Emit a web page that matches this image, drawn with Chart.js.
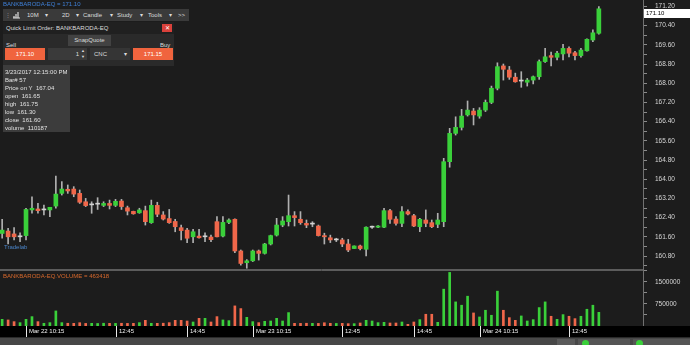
<!DOCTYPE html>
<html>
<head>
<meta charset="utf-8">
<script src="https://cdn.jsdelivr.net/npm/chart.js@4.4.1/dist/chart.umd.min.js"></script>
<style>
body { margin:0; width:690px; height:345px; overflow:hidden; background:#1c1c1c; position:relative; font-family:"Liberation Sans", Arial, sans-serif; }
#priceBox { position:absolute; left:0; top:0; width:690px; height:270px; }
#volBox { position:absolute; left:0; top:270px; width:690px; height:68px; }
.ov { position:absolute; font-size:6px; line-height:8px; color:#dcdcdc; white-space:nowrap; z-index:5; }
.box { position:absolute; z-index:5; }
.info div { height:8px; }
</style>
</head>
<body>
<div id="priceBox"><canvas id="priceChart" width="690" height="270"></canvas></div>
<div id="volBox"><canvas id="volChart" width="690" height="68"></canvas></div>

<!-- top left overlays -->
<div class="ov" style="left:3px;top:0px;color:#3f80d8;">BANKBARODA-EQ = 171.10</div>
<div class="box" style="left:3px;top:9px;width:186px;height:12px;background:#3a3a3a;">
  <div class="ov" style="left:2px;top:2px;color:#888;">⋮</div>
  <svg class="box" style="left:9px;top:2px;" width="9" height="8"><path d="M1 7 H8 M2 7 V5 M4 7 V3 M6 7 V1" stroke="#ddd" stroke-width="1.2" fill="none"/></svg>
  <div class="ov" style="left:24px;top:2px;">10M</div><div class="ov" style="left:42px;top:2px;">▾</div>
  <div class="ov" style="left:59px;top:2px;">2D</div><div class="ov" style="left:73px;top:2px;">▾</div>
  <div class="ov" style="left:80px;top:2px;">Candle</div><div class="ov" style="left:107px;top:2px;">▾</div>
  <div class="ov" style="left:114px;top:2px;">Study</div><div class="ov" style="left:137px;top:2px;">▾</div>
  <div class="ov" style="left:145px;top:2px;">Tools</div><div class="ov" style="left:166px;top:2px;">▾</div>
  <div class="ov" style="left:175px;top:2px;">&gt;&gt;</div>
</div>
<div class="box" style="left:3px;top:22px;width:171px;height:44px;background:#2a2a2a;">
  <div class="box" style="left:0;top:0;width:171px;height:12px;background:#202020;"></div>
  <div class="ov" style="left:3px;top:2px;color:#dcdcdc;"><span style="color:#dcdcdc;">Quick Limit Order: BANKBARODA-EQ</span></div>
  <div class="box" style="left:159px;top:2px;width:10px;height:8px;background:#d9413b;color:#fff;font-size:6px;line-height:8px;text-align:center;">✕</div>
  <div class="box" style="left:65px;top:13px;width:43px;height:11px;background:#424242;color:#dcdcdc;font-size:6px;line-height:11px;text-align:center;">SnapQuote</div>
  <div class="ov" style="left:3px;top:19px;">Sell</div>
  <div class="ov" style="left:157px;top:19px;">Buy</div>
  <div class="box" style="left:2px;top:26px;width:40px;height:12px;background:#f0643e;color:#fff;font-size:6px;line-height:12px;text-align:center;">171.10</div>
  <div class="box" style="left:45px;top:26px;width:39px;height:12px;background:#3a3a3a;color:#ddd;font-size:6px;line-height:12px;">
    <span style="position:absolute;right:8px;">1</span><span style="position:absolute;right:2px;font-size:4px;line-height:6px;top:0;">▲<br>▼</span></div>
  <div class="box" style="left:87px;top:26px;width:40px;height:12px;background:#353535;color:#ddd;font-size:6px;line-height:12px;">
    <span style="position:absolute;left:4px;">CNC</span><span style="position:absolute;right:3px;">▾</span></div>
  <div class="box" style="left:130px;top:26px;width:40px;height:12px;background:#f0643e;color:#fff;font-size:6px;line-height:12px;text-align:center;">171.15</div>
</div>
<div class="box info" style="left:3px;top:65px;width:67px;height:67px;background:#3c3c3c;color:#e2e2e2;font-size:6px;line-height:8px;padding-top:3px;box-sizing:border-box;padding-left:2px;">
  <div>3/23/2017 12:15:00 PM</div>
  <div>Bar# 57</div>
  <div>Price on Y&nbsp; 167.04</div>
  <div>open&nbsp; 161.65</div>
  <div>high&nbsp; 161.75</div>
  <div>low&nbsp; 161.30</div>
  <div>close&nbsp; 161.60</div>
  <div>volume&nbsp; 110187</div>
</div>
<div class="ov" style="left:4px;top:243px;color:#4a84c8;">Tradelab</div>
<div class="ov" style="left:3px;top:272px;color:#d9692c;">BANKBARODA-EQ.VOLUME = 463418</div>

<!-- bottom status bar -->
<div class="box" style="left:0;top:337px;width:690px;height:8px;background:#474747;border-top:1px solid #2a2a2a;">
  <div class="box" style="left:557px;top:1px;width:18px;height:8px;background:#5a5a5a;"></div>
  <div class="box" style="left:578px;top:1px;width:52px;height:8px;background:#555;"></div>
  <div class="box" style="left:582px;top:2px;width:7px;height:7px;border-radius:50%;background:#3ad03a;"></div>
  <div class="box" style="left:633px;top:1px;width:57px;height:8px;background:#555;"></div>
  <div class="box" style="left:636px;top:2px;width:7px;height:7px;border-radius:50%;background:#3ad03a;"></div>
</div>

<script>
// 10 minute bars, Mar 22 09:35 .. Mar 24 13:35
const opens = [
  161.74, 161.84, 161.72, 161.60, 161.65, 162.72, 162.76, 162.72, 162.72, 162.88,
  163.41, 163.58, 163.59, 163.41, 163.06, 162.93, 162.96, 162.91, 162.99, 162.91,
  163.09, 162.81, 162.66, 162.60, 162.69, 162.19, 162.91, 162.51, 162.36, 162.24,
  161.98, 161.88, 161.60, 161.63, 161.60, 161.59,
  162.23, 161.63, 162.20, 162.33,
  161.01, 160.52, 160.60, 161.01, 160.91, 161.30, 161.67, 162.09, 162.23, 162.48,
  162.33, 162.16, 162.13, 162.05, 161.65, 161.56, 161.47, 161.47, 161.30, 161.11,
  161.22, 161.08, 162.00, 162.00, 162.00, 162.69, 162.34, 162.16, 162.65, 162.48,
  162.02, 162.30, 162.19, 162.12,
  162.23, 164.73, 165.91, 166.16, 166.68, 166.84,
  166.63, 166.88, 167.20, 167.79, 168.72, 168.55, 168.25, 168.09, 168.04, 168.13,
  168.27, 168.90, 169.15, 169.08, 169.22, 169.45, 169.27, 169.15, 169.35, 169.80,
  170.08
];
const highs = [
  162.33, 161.95, 161.98, 161.77, 162.79, 163.27, 162.99, 162.92, 162.83, 164.13,
  163.90, 163.76, 163.69, 163.55, 163.20, 163.06, 163.23, 163.06, 163.13, 163.16,
  163.16, 162.88, 162.67, 162.79, 162.88, 163.13, 163.04, 162.65, 162.74, 162.33,
  162.09, 161.95, 161.91, 161.91, 161.77, 161.67,
  162.44, 162.44, 162.35, 162.35,
  161.05, 160.65, 161.05, 161.05, 161.33, 161.67, 162.37, 162.44, 163.34, 162.65,
  162.65, 162.30, 162.23, 162.09, 161.75, 161.67, 161.54, 161.54, 161.49, 161.22,
  161.26, 162.02, 162.05, 162.07, 162.79, 162.74, 162.44, 162.86, 162.72, 162.54,
  162.37, 162.72, 162.30, 162.58,
  164.87, 166.12, 166.60, 166.91, 167.26, 166.95,
  166.98, 167.30, 167.88, 168.85, 168.80, 168.70, 168.42, 168.48, 168.20, 168.30,
  168.97, 169.45, 169.30, 169.33, 169.62, 169.52, 169.33, 169.45, 169.85, 170.22,
  171.19
];
const lows = [
  161.54, 161.30, 161.47, 161.40, 161.47, 162.58, 162.58, 162.51, 162.44, 162.79,
  163.34, 163.41, 163.27, 162.99, 162.86, 162.58, 162.74, 162.86, 162.76, 162.86,
  162.74, 162.51, 162.54, 162.58, 162.09, 162.16, 162.44, 162.30, 162.16, 161.81,
  161.47, 161.36, 161.36, 161.54, 161.40, 161.40,
  161.60, 161.60, 162.15, 160.94,
  160.42, 160.29, 160.57, 160.63, 160.88, 161.26, 161.63, 162.02, 162.05, 162.05,
  162.12, 161.98, 162.02, 161.63, 161.30, 161.36, 161.40, 161.19, 160.98, 161.11,
  161.05, 160.80, 161.95, 161.98, 161.98, 162.16, 162.09, 162.02, 162.51, 162.02,
  161.81, 162.02, 161.98, 161.98,
  162.02, 164.50, 165.84, 166.05, 166.63, 166.26,
  166.54, 166.82, 167.15, 167.72, 168.13, 168.16, 168.04, 167.83, 167.88, 167.97,
  168.16, 168.87, 168.72, 168.97, 168.97, 169.10, 168.97, 169.08, 169.33, 169.73,
  170.04
];
const closes = [
  161.88, 161.60, 161.60, 161.60, 162.74, 162.79, 162.69, 162.72, 162.83, 163.38,
  163.59, 163.51, 163.38, 163.04, 162.90, 162.93, 162.96, 162.99, 162.91, 163.08,
  162.86, 162.67, 162.56, 162.72, 162.23, 162.91, 162.54, 162.34, 162.19, 162.02,
  161.86, 161.54, 161.81, 161.56, 161.60, 161.48,
  161.60, 162.20, 162.30, 161.01,
  160.49, 160.60, 161.01, 160.91, 161.30, 161.65, 162.09, 162.26, 162.48, 162.40,
  162.19, 162.09, 162.13, 161.65, 161.60, 161.47, 161.47, 161.30, 161.05, 161.22,
  161.11, 162.00, 162.00, 162.05, 162.69, 162.33, 162.16, 162.65, 162.55, 162.05,
  162.33, 162.16, 162.02, 162.30,
  164.73, 165.91, 166.16, 166.63, 166.88, 166.68,
  166.88, 167.20, 167.79, 168.69, 168.58, 168.25, 168.06, 168.09, 168.13, 168.27,
  168.90, 169.10, 169.08, 169.25, 169.45, 169.25, 169.15, 169.38, 169.83, 170.10,
  171.10
];
const volumes = [
  227000, 205000, 148000, 114000, 227000, 318000, 148000, 92000, 114000, 511000,
  114000, 93000, 90000, 112000, 88000, 91000, 86000, 94000, 90000, 89000,
  93000, 88000, 90000, 114000, 193000, 92000, 90000, 95000, 114000, 193000,
  193000, 170000, 136000, 261000, 261000, 136000,
  318000, 205000, 182000, 682000,
  591000, 295000, 148000, 114000, 159000, 170000, 261000, 170000, 455000, 91000,
  89000, 93000, 90000, 88000, 110187, 92000, 87000, 91000, 80000, 80000,
  102000, 193000, 170000, 114000, 125000, 102000, 102000, 136000, 57000, 136000,
  216000, 398000, 398000, 125000,
  1250000, 1818000, 818000, 705000, 1011000, 443000,
  307000, 534000, 364000, 1182000, 534000, 284000, 193000, 341000, 170000, 216000,
  625000, 818000, 330000, 227000, 386000, 330000, 250000, 330000, 568000, 705000,
  463418
];
const tickBars = [4, 19, 31, 42, 57, 69, 80, 95];
const tickLabels = ['Mar 22 10:15', '12:45', '14:45', 'Mar 23 10:15', '12:45', '14:45', 'Mar 24 10:15', '12:45'];
const lastPrice = 171.10;

const X_MIN = -0.36, X_MAX = 107.4;
const UP = '#3ad03a', DOWN = '#f0674a', FLAT = '#d2d2d2', WICK = '#b0b0b0';
const FONT = 'Liberation Sans';

function candleColor(i) {
    if (closes[i] > opens[i]) return UP;
    if (closes[i] < opens[i]) return DOWN;
    return FLAT;
}

function fixAxis(scale) {
    scale.width = 47;
    scale.paddingTop = 0;
    scale.paddingBottom = 0;
}

// price tag on the right axis + panel separator
const priceMarker = {
    id: 'priceMarker',
    afterDraw(chart) {
        const ctx = chart.ctx, area = chart.chartArea;
        const y = chart.scales.y.getPixelForValue(lastPrice);
        ctx.save();
        ctx.fillStyle = '#ffffff';
        ctx.fillRect(area.right + 1, Math.round(y), 46, 9);
        ctx.fillStyle = '#000000';
        ctx.font = '6px ' + FONT;
        ctx.textBaseline = 'middle';
        ctx.fillText(lastPrice.toFixed(2), area.right + 3, Math.round(y) + 4.5);
        ctx.strokeStyle = '#5c5c5c';
        ctx.beginPath();
        ctx.moveTo(0, area.bottom - 0.5);
        ctx.lineTo(area.right, area.bottom - 0.5);
        ctx.stroke();
        ctx.restore();
    }
};

// black time strip under the volume panel
const timeStrip = {
    id: 'timeStrip',
    afterDraw(chart) {
        const ctx = chart.ctx, area = chart.chartArea, xs = chart.scales.x;
        ctx.save();
        ctx.fillStyle = '#000000';
        ctx.fillRect(0, area.bottom, chart.width, 11);
        ctx.strokeStyle = '#e8e8e8';
        ctx.fillStyle = '#f0f0f0';
        ctx.font = '6px ' + FONT;
        ctx.textBaseline = 'middle';
        tickBars.forEach(function(b, k) {
            const px = Math.round(xs.getPixelForValue(b)) + 0.5;
            ctx.beginPath();
            ctx.moveTo(px, area.bottom);
            ctx.lineTo(px, area.bottom + 11);
            ctx.stroke();
            ctx.fillText(tickLabels[k], px + 2.5, area.bottom + 5.5);
        });
        ctx.strokeStyle = '#5c5c5c';
        ctx.beginPath();
        ctx.moveTo(0, 0.5);
        ctx.lineTo(area.right, 0.5);
        ctx.stroke();
        ctx.restore();
    }
};

new Chart(document.getElementById('priceChart'), {
    type: 'bar',
    data: {
        datasets: [{
            label: 'body',
            data: opens.map(function(o, i) { return {x: i, y: [o, closes[i]]}; }),
            backgroundColor: opens.map(function(o, i) { return candleColor(i); }),
            barThickness: 4,
            minBarLength: 1,
            grouped: false,
            order: 0
        }, {
            label: 'wick',
            data: lows.map(function(l, i) { return {x: i, y: [l, highs[i]]}; }),
            backgroundColor: WICK,
            barThickness: 1,
            grouped: false,
            order: 1
        }]
    },
    options: {
        responsive: false,
        animation: false,
        events: [],
        layout: { padding: 0 },
        plugins: { legend: { display: false }, tooltip: { enabled: false } },
        scales: {
            x: { type: 'linear', min: X_MIN, max: X_MAX, offset: false, display: false },
            y: {
                position: 'right',
                min: 160.217,
                max: 171.467,
                afterBuildTicks: function(scale) {
                    const t = [];
                    for (let k = 0; k <= 27; k++) t.push({ value: Math.round((160.4 + 0.4 * k) * 10) / 10 });
                    scale.ticks = t;
                },
                afterFit: fixAxis,
                ticks: {
                    autoSkip: false,
                    color: '#d6d6d6',
                    padding: 8,
                    font: { family: FONT, size: 6.5 },
                    callback: function(v) { return Math.round(v * 10) % 8 === 0 ? v.toFixed(2) : ''; }
                },
                grid: { drawOnChartArea: false, tickLength: 4, color: '#8a8a8a' },
                border: { color: '#707070' }
            }
        }
    },
    plugins: [priceMarker]
});

new Chart(document.getElementById('volChart'), {
    type: 'bar',
    data: {
        datasets: [{
            label: 'volume',
            data: volumes.map(function(v, i) { return {x: i, y: v}; }),
            backgroundColor: volumes.map(function(v, i) { return closes[i] >= opens[i] ? UP : DOWN; }),
            barThickness: 2
        }]
    },
    options: {
        responsive: false,
        animation: false,
        events: [],
        layout: { padding: { bottom: 12 } },
        plugins: { legend: { display: false }, tooltip: { enabled: false } },
        scales: {
            x: { type: 'linear', min: X_MIN, max: X_MAX, offset: false, display: false },
            y: {
                position: 'right',
                min: 0,
                max: 1900000,
                afterBuildTicks: function(scale) {
                    scale.ticks = [375000, 750000, 1125000, 1500000, 1875000].map(function(v) { return { value: v }; });
                },
                afterFit: fixAxis,
                ticks: {
                    autoSkip: false,
                    color: '#d6d6d6',
                    padding: 8,
                    font: { family: FONT, size: 6.5 },
                    callback: function(v) { return v % 750000 === 0 ? String(v) : ''; }
                },
                grid: { drawOnChartArea: false, tickLength: 4, color: '#8a8a8a' },
                border: { color: '#707070' }
            }
        }
    },
    plugins: [timeStrip]
});
</script>
</body>
</html>
